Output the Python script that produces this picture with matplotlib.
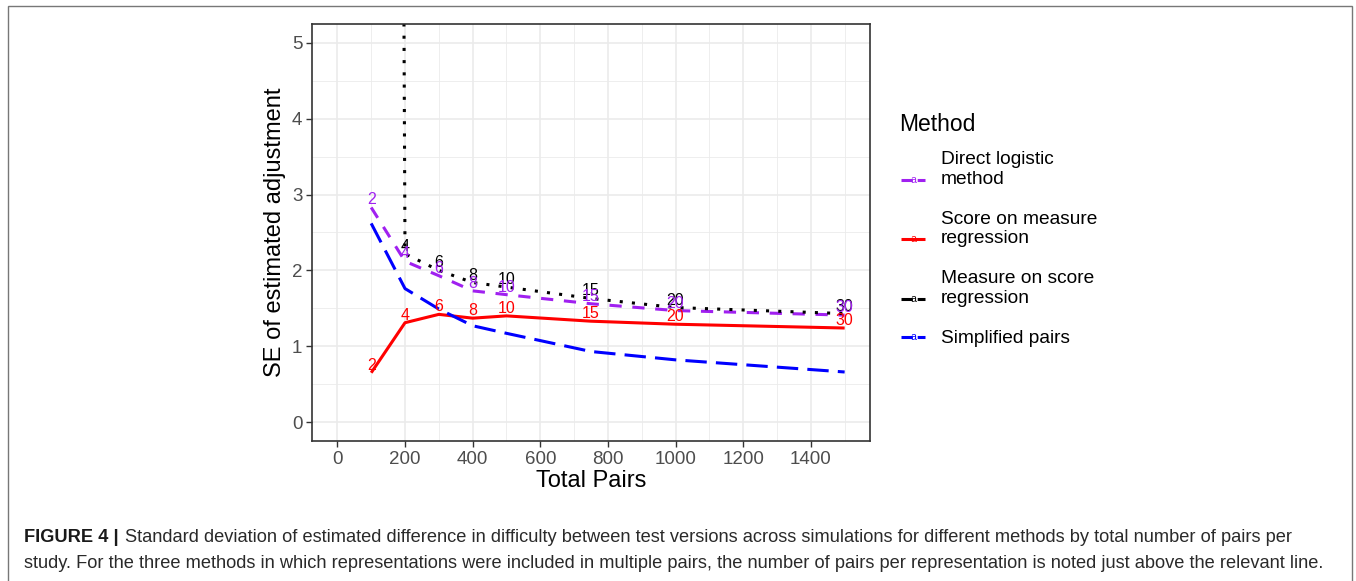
import matplotlib
matplotlib.use('Agg')
import matplotlib.pyplot as plt
from matplotlib.lines import Line2D
from matplotlib.legend_handler import HandlerLine2D
from matplotlib.text import Text
from matplotlib.patches import Rectangle

plt.rcParams['font.family'] = ['Liberation Sans', 'DejaVu Sans']

total_pairs = [100, 200, 300, 400, 500, 750, 1000, 1500]
pairs_per_rep = ['2', '4', '6', '8', '10', '15', '20', '30']

se_direct_logistic = [2.83, 2.12, 1.93, 1.73, 1.68, 1.56, 1.47, 1.41]
se_score_on_measure = [0.65, 1.31, 1.42, 1.37, 1.40, 1.33, 1.29, 1.24]
se_measure_on_score = [100.0, 2.22, 2.00, 1.84, 1.78, 1.63, 1.51, 1.43]
se_simplified = [2.62, 1.76, 1.49, 1.27, 1.17, 0.93, 0.82, 0.66]

method_names = ['Direct logistic\nmethod', 'Score on measure\nregression',
                'Measure on score\nregression', 'Simplified pairs']
method_colors = ['#A020F0', '#FF0000', '#000000', '#0000FF']

caption_bold = 'FIGURE 4 |'
caption_1 = ('Standard deviation of estimated difference in difficulty between test versions across '
             'simulations for different methods by total number of pairs per')
caption_2 = ('study. For the three methods in which representations were included in multiple pairs, '
             'the number of pairs per representation is noted just above the relevant line.')

Y_LIM = (-0.25, 5.25)


class KeyWithLetter(HandlerLine2D):
    # ggplot style legend key: short line with a small "a" on top
    def __init__(self, shift=0.0, **kw):
        super().__init__(**kw)
        self.shift = shift

    def create_artists(self, legend, orig_handle, xdescent, ydescent, width, height, fontsize, trans):
        y = height / 2 - ydescent - self.shift * fontsize
        line = Line2D([-xdescent, width - xdescent], [y, y], color=orig_handle.get_color(),
                      linewidth=orig_handle.get_linewidth(), linestyle=orig_handle.get_linestyle(),
                      solid_capstyle='butt', dash_capstyle='butt')
        line.set_transform(trans)
        letter = Text(width / 2 - xdescent, y, 'a', color=orig_handle.get_color(),
                      fontsize=fontsize * 0.55, ha='center', va='center')
        letter.set_transform(trans)
        return [line, letter]


fig = plt.figure(figsize=(13.56, 5.81), dpi=100)
ax = fig.add_axes([0.2301, 0.2410, 0.4115, 0.7177])

series = [se_direct_logistic, se_score_on_measure, se_measure_on_score, se_simplified]
styles = [(0, (4, 3.5)), '-', (0, (1, 3)), (0, (7, 3))]
handles = []
for vals, col, ls, name in zip(series, method_colors, styles, method_names):
    h, = ax.plot(total_pairs, vals, color=col, linestyle=ls, linewidth=2.2,
                 solid_capstyle='butt', dash_capstyle='butt', label=name)
    handles.append(h)

# number of pairs per representation (not for simplified pairs); black first so purple sits on top
for idx in [2, 0, 1]:
    for x, y, lab in zip(total_pairs, series[idx], pairs_per_rep):
        if Y_LIM[0] <= y <= Y_LIM[1]:
            ax.text(x, y, lab, color=method_colors[idx], fontsize=11.5, ha='center', va='bottom')

ax.set_xlim(-75, 1575)
ax.set_ylim(*Y_LIM)
ax.set_xticks(range(0, 1401, 200))
ax.set_xticks(range(100, 1501, 200), minor=True)
ax.set_yticks(range(0, 6))
ax.set_yticks([0.5, 1.5, 2.5, 3.5, 4.5], minor=True)
ax.grid(which='major', color='#EBEBEB', linewidth=1.2)
ax.grid(which='minor', color='#EBEBEB', linewidth=0.6)
ax.set_axisbelow(True)
ax.tick_params(which='major', length=4, width=1, color='#333333', labelsize=13.5,
               labelcolor='#4D4D4D', pad=3)
ax.tick_params(which='minor', length=0)
for s in ax.spines.values():
    s.set_color('#333333')
    s.set_linewidth(1.2)
ax.set_xlabel('Total Pairs', fontsize=17, labelpad=2)
ax.set_ylabel('SE of estimated adjustment', fontsize=17, labelpad=4)

# legend title set apart so the gap under it matches the reference
fig.text(899 / 1356, 1 - 125 / 581, 'Method', fontsize=16.5, ha='left', va='center')
shifts = [0.55, 0.55, 0.55, 0.0]
leg = fig.legend(handles=handles, loc='upper left',
                 bbox_to_anchor=(0.652, 1 - 134 / 581), frameon=False, fontsize=13.8,
                 handlelength=1.25, handletextpad=0.8, labelspacing=1.2,
                 handler_map={h: KeyWithLetter(shift=s) for h, s in zip(handles, shifts)})

# outer frame of the figure panel
fig.patches.append(Rectangle((8 / 1356, -0.05), 1344 / 1356, 1.05 - 6 / 581,
                             transform=fig.transFigure, fill=False,
                             edgecolor='#777777', linewidth=1.0))

# caption with a bold lead-in
y1 = 1 - 537 / 581
y2 = 1 - 564 / 581
t_bold = fig.text(24 / 1356, y1, caption_bold, fontsize=13.15, fontweight='bold',
                  color='#1a1a1a', va='center', ha='left')
fig.canvas.draw()
bb = t_bold.get_window_extent()
fig.text((bb.x1 + 6) / 1356, y1, caption_1, fontsize=13.15, color='#2a2a2a', va='center', ha='left')
fig.text(24 / 1356, y2, caption_2, fontsize=13.15, color='#2a2a2a', va='center', ha='left')

fig.savefig('out.png', dpi=100)
